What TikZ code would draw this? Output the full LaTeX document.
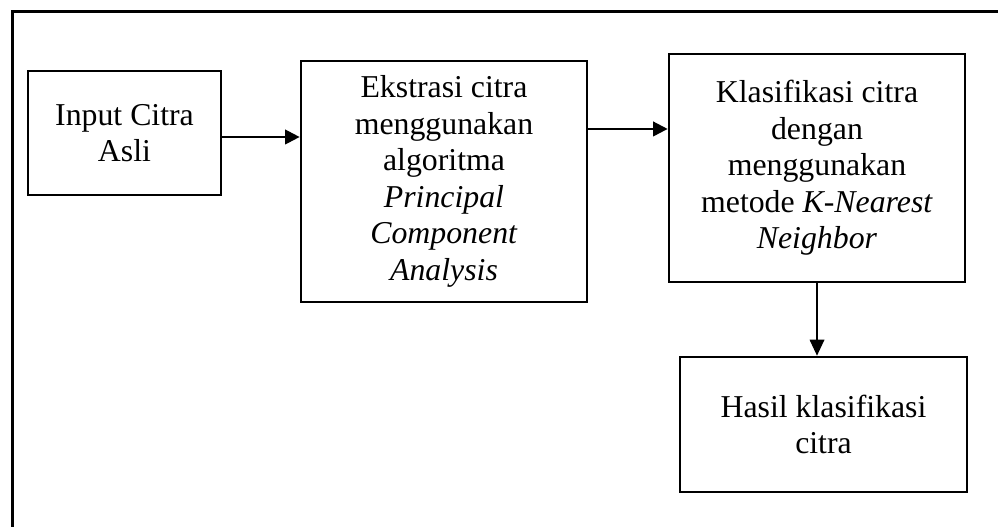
\documentclass[tikz,border=0pt]{standalone}
\usepackage{fontspec}
\setmainfont{Liberation Serif}[Ligatures=NoCommon]
\usetikzlibrary{arrows.meta}

\tikzset{
  block/.style={draw=black, line width=2pt, fill=white, align=center,
    inner sep=0pt, font=\fontsize{23.85}{27.4}\selectfont},
  flow/.style={line width=1.6pt, -{Triangle[length=11pt,width=11pt]}},
  thinflow/.style={line width=1pt, -{Triangle[length=12pt,width=11pt]}},
}

\begin{document}
\begin{tikzpicture}[x=0.75pt, y=-0.75pt]
  \useasboundingbox (0,0) rectangle (998,527);
  \clip (0,0) rectangle (998,527);

  % outer frame (only its top and left sides fall inside the page)
  \draw[line width=2.2pt] (12.5,560) -- (12.5,11.5) -- (1030,11.5);

  % process blocks
  \node[block, minimum width=144.75pt, minimum height=93pt] (b1) at (124.5,133)
    {Input Citra\\Asli};
  \node[block, minimum width=214.5pt, minimum height=180.75pt] (b2) at (444,181.5)
    {Ekstrasi citra\\menggunakan\\algoritma\\\textit{Principal}\\\textit{Component}\\\textit{Analysis}};
  \node[block, minimum width=222pt, minimum height=171pt] (b3) at (817,168)
    {Klasifikasi citra\\dengan\\menggunakan\\metode \textit{K-Nearest}\\\textit{Neighbor}};
  \node[block, minimum width=215.25pt, minimum height=101.25pt] (b4) at (823.5,424.5)
    {Hasil klasifikasi\\citra};

  % connectors
  \draw[flow] ([yshift=-3pt]b1.east) -- ([yshift=-3pt]b1.east -| b2.west);
  \draw[flow] ([yshift=39.4pt]b2.east) -- ([yshift=39.4pt]b2.east -| b3.west);
  \draw[thinflow] (b3.south) -- (b3.south |- b4.north);
\end{tikzpicture}
\end{document}
